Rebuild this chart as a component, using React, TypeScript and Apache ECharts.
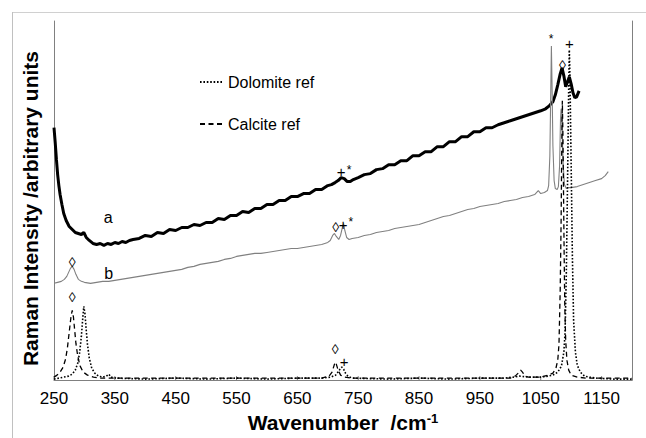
import React, { useEffect, useRef } from 'react';
import * as echarts from 'echarts';

// ---- Spectrum a (black, thick) : wavenumber / intensity (arbitrary units)
const aWn = [250, 252, 254, 256, 258, 260, 263, 266, 270, 275, 280, 285, 290, 295, 299, 303, 308, 314, 320, 326, 332, 338, 344, 350, 356, 362, 368, 374, 380, 390, 400, 410, 420, 430, 440, 450, 460, 470, 480, 490, 500, 510, 520, 530, 540, 550, 560, 570, 580, 590, 600, 610, 620, 630, 640, 650, 660, 670, 680, 690, 700, 706, 712, 717, 722, 727, 732, 737, 742, 750, 760, 770, 780, 790, 800, 810, 820, 830, 840, 850, 860, 870, 880, 890, 900, 910, 920, 930, 940, 950, 960, 970, 980, 990, 1000, 1010, 1020, 1030, 1040, 1050, 1058, 1064, 1070, 1074, 1078, 1082, 1085, 1088, 1091, 1094, 1097, 1100, 1103, 1106, 1109, 1113];
const aVal = [253, 238, 221, 206, 195, 186, 176, 167, 160, 154, 151, 148, 147, 146, 148, 143, 140, 137, 136, 137, 135, 137, 136, 138, 137, 139, 138, 140, 141, 142, 145, 144, 148, 147, 151, 150, 153, 153, 156, 155, 158, 158, 162, 161, 165, 165, 169, 168, 172, 172, 176, 176, 180, 180, 184, 184, 187, 187, 191, 191, 195, 196, 198, 200, 203, 202, 199, 199, 201, 203, 206, 207, 211, 212, 216, 216, 220, 220, 225, 225, 229, 229, 234, 234, 239, 239, 244, 244, 249, 249, 253, 253, 256, 258, 260, 262, 264, 266, 268, 270, 272, 275, 279, 286, 296, 307, 313, 305, 294, 299, 304, 297, 288, 283, 284, 290];

// ---- Spectrum b (grey, thin)
const bWn = [250, 256, 262, 267, 271, 274, 277, 280, 283, 286, 290, 295, 300, 310, 320, 330, 340, 350, 360, 370, 380, 390, 400, 410, 420, 430, 440, 450, 460, 470, 480, 490, 500, 510, 520, 530, 540, 550, 560, 570, 580, 590, 600, 610, 620, 630, 640, 650, 660, 670, 680, 690, 700, 704, 708, 711, 714, 718, 721, 724, 726, 728, 731, 735, 740, 750, 760, 770, 780, 790, 800, 810, 820, 830, 840, 850, 860, 870, 880, 890, 900, 910, 920, 930, 940, 950, 960, 970, 980, 990, 1000, 1010, 1020, 1030, 1040, 1046, 1050, 1056, 1061, 1063, 1065, 1066.5, 1067.5, 1068.5, 1070, 1072, 1074, 1077, 1079, 1081, 1082.5, 1083.5, 1085, 1087, 1089, 1092, 1096, 1100, 1110, 1120, 1130, 1140, 1150, 1156, 1161];
const bVal = [97, 98, 99, 101, 104, 108, 112, 114, 111, 106, 101, 99, 98, 97, 98, 99, 99, 100, 101, 102, 103, 104, 105, 106, 107, 108, 109, 110, 111, 113, 114, 116, 117, 118, 119, 121, 122, 124, 125, 126, 127, 127, 128, 129, 130, 131, 132, 132, 133, 134, 135, 136, 138, 140, 145, 147, 144, 141, 145, 153, 157, 150, 143, 141, 142, 143, 145, 146, 148, 149, 150, 152, 153, 154, 155, 156, 158, 160, 162, 164, 165, 167, 169, 171, 172, 174, 175, 176, 177, 179, 180, 181, 183, 184, 186, 190, 187, 188, 190, 195, 225, 290, 335, 300, 235, 200, 192, 191, 194, 215, 262, 272, 250, 215, 196, 192, 193, 193, 194, 196, 198, 200, 202, 205, 209];

// ---- Dolomite reference (dotted)
const dolWn = [250, 258, 266, 274, 280, 285, 289, 292, 295, 297, 299, 301, 303, 305, 308, 312, 317, 323, 330, 336, 340, 344, 352, 400, 450, 500, 550, 600, 650, 690, 705, 713, 718, 721, 723, 726, 729, 733, 740, 800, 850, 900, 950, 990, 1005, 1015, 1030, 1050, 1062, 1070, 1078, 1084, 1088, 1090, 1092, 1094, 1096, 1097, 1098, 1100, 1102, 1104, 1107, 1110, 1115, 1122, 1130, 1140, 1170, 1200];
const dolVal = [1, 2, 3, 4, 6, 10, 17, 27, 44, 60, 74, 66, 50, 36, 22, 12, 7, 4, 3, 4, 6, 3, 2, 1, 2, 1, 2, 1, 2, 2, 3, 5, 9, 12, 13, 11, 7, 4, 2, 1, 2, 1, 2, 2, 3, 4, 3, 3, 4, 5, 8, 14, 28, 48, 105, 195, 295, 331, 305, 215, 125, 60, 28, 15, 8, 4, 3, 2, 1, 1];

// ---- Calcite reference (dashed)
const calWn = [250, 255, 260, 265, 269, 272, 275, 278, 280, 282, 284, 286, 289, 293, 298, 305, 315, 325, 340, 400, 500, 600, 690, 702, 707, 710, 712, 714, 717, 721, 727, 740, 900, 1000, 1008, 1013, 1017, 1020, 1024, 1030, 1050, 1062, 1070, 1075, 1078, 1080, 1082, 1083.5, 1084.5, 1085.5, 1086.5, 1087.5, 1088.5, 1089.5, 1091, 1093, 1096, 1100, 1110, 1125, 1200];
const calVal = [3, 5, 8, 13, 21, 32, 48, 64, 70, 63, 50, 37, 24, 14, 8, 5, 3, 2, 2, 2, 2, 2, 2, 4, 8, 14, 18, 16, 10, 5, 3, 2, 2, 2, 4, 7, 10, 8, 4, 3, 3, 5, 7, 12, 20, 36, 90, 160, 230, 280, 245, 185, 125, 75, 40, 20, 10, 5, 3, 2, 2];

// ---- Peak markers and curve labels
const markerWn = [339, 340, 280, 280, 713, 725, 738, 722, 735, 712, 727, 1067, 1085.5, 1097];
const markerVal = [163, 107, 118, 83, 153, 156, 162, 209, 214, 31, 19, 345, 316, 337];
const markerText = ['a', 'b', '◊', '◊', '◊', '+', '*', '+', '*', '◊', '+', '*', '◊', '+'];

// ---- Axis ticks / legend
const xTickValues = [250, 350, 450, 550, 650, 750, 850, 950, 1050, 1150];
const seriesNames = ['a', 'b', 'Dolomite ref', 'Calcite ref'];

const FONT = "'Liberation Sans', Arial, Helvetica, sans-serif";

const pairs = (x: number[], y: number[]) => x.map((v, i) => [v, y[i]]);

export default function App() {
  const ref = useRef<HTMLDivElement>(null);

  useEffect(() => {
    if (!ref.current) return;
    const chart = echarts.init(ref.current, null, { renderer: 'svg' });

    const markerSize = (t: string) => (t === '*' ? 12 : t === 'a' || t === 'b' ? 16 : t === '+' ? 15 : 14);

    const option: any = {
      animation: false,
      backgroundColor: '#ffffff',
      grid: { left: 54, right: 14, top: 21, bottom: 57 },
      legend: {
        data: ['Dolomite ref', 'Calcite ref'],
        orient: 'vertical',
        left: 199,
        top: 74,
        padding: 0,
        itemWidth: 23,
        itemHeight: 16,
        itemGap: 26,
        itemStyle: { opacity: 0 },
        textStyle: { fontFamily: FONT, fontSize: 16, color: '#000' },
        selectedMode: false,
      },
      xAxis: {
        type: 'value',
        min: 250,
        max: 1200,
        interval: 50,
        axisLine: { show: true, lineStyle: { color: '#808080', width: 1 } },
        axisTick: { show: false },
        splitLine: { show: false },
        axisLabel: {
          color: '#000',
          fontFamily: FONT,
          fontSize: 17,
          margin: 10,
          formatter: (v: number) => (xTickValues.indexOf(v) >= 0 ? String(v) : ''),
        },
        name: '{t|Wavenumber  /cm}{s|-1}',
        nameLocation: 'middle',
        nameGap: 28,
        nameTextStyle: {
          rich: {
            t: { fontFamily: FONT, fontSize: 21, fontWeight: 'bold', color: '#000' },
            s: { fontFamily: FONT, fontSize: 13, fontWeight: 'bold', color: '#000', verticalAlign: 'top' },
          },
        },
      },
      yAxis: [
        {
          type: 'value',
          min: 0,
          max: 360,
          axisLine: { show: true, lineStyle: { color: '#808080', width: 1 } },
          axisTick: { show: false },
          axisLabel: { show: false },
          splitLine: { show: false },
          name: 'Raman Intensity /arbitrary units',
          nameLocation: 'middle',
          nameGap: 13,
          nameTextStyle: {
            fontFamily: FONT,
            fontSize: 21,
            fontWeight: 'bold',
            color: '#000',
            padding: [0, 16, 0, 0],
          },
        },
        {
          type: 'value',
          position: 'right',
          min: 0,
          max: 360,
          axisLine: { show: true, lineStyle: { color: '#808080', width: 1 } },
          axisTick: { show: false },
          axisLabel: { show: false },
          splitLine: { show: false },
        },
      ],
      series: [
        {
          name: seriesNames[0],
          type: 'line',
          data: pairs(aWn, aVal),
          symbol: 'none',
          lineStyle: { color: '#000', width: 3 },
          z: 2,
        },
        {
          name: seriesNames[1],
          type: 'line',
          data: pairs(bWn, bVal),
          symbol: 'none',
          lineStyle: { color: '#808080', width: 1.1 },
          z: 3,
        },
        {
          name: seriesNames[2],
          type: 'line',
          data: pairs(dolWn, dolVal),
          symbol: 'none',
          color: '#000',
          itemStyle: { color: '#000' },
          lineStyle: { color: '#000', width: 1.6, type: [1.6, 1.8] },
          z: 4,
        },
        {
          name: seriesNames[3],
          type: 'line',
          data: pairs(calWn, calVal),
          symbol: 'none',
          color: '#000',
          itemStyle: { color: '#000' },
          lineStyle: { color: '#000', width: 1.3, type: [5, 3.5] },
          z: 4,
        },
      ],
    };

    chart.setOption(option);

    // tick marks at the labelled wavenumbers, placed through the axis scale
    const y0 = chart.convertToPixel({ yAxisIndex: 0 }, 0) as number;
    const ticks = xTickValues.map((v) => {
      const px = chart.convertToPixel({ xAxisIndex: 0 }, v) as number;
      return {
        type: 'line',
        shape: { x1: px, y1: y0 - 4, x2: px, y2: y0 },
        style: { stroke: '#808080', lineWidth: 1 },
        silent: true,
      };
    });

    // peak markers and curve letters, placed through the axis scales
    const markers = markerWn.map((x, i) => {
      const p = chart.convertToPixel({ xAxisIndex: 0, yAxisIndex: 0 }, [x, markerVal[i]]) as number[];
      const t = markerText[i];
      return {
        type: 'text',
        x: p[0],
        y: p[1] + (t === '*' ? 3 : 0),
        silent: true,
        z: 10,
        style: {
          text: t,
          fill: '#000',
          font: `${markerSize(t)}px ${FONT}`,
          align: 'center',
          verticalAlign: 'middle',
        },
      };
    });

    chart.setOption({
      graphic: [
        { type: 'line', shape: { x1: 12, y1: 12.5, x2: 646, y2: 12.5 }, style: { stroke: '#d0d0d0', lineWidth: 1 }, silent: true },
        { type: 'line', shape: { x1: 12.5, y1: 12, x2: 12.5, y2: 438 }, style: { stroke: '#c0c0c0', lineWidth: 1 }, silent: true },
        ...ticks,
        ...markers,
      ],
    });

    return () => chart.dispose();
  }, []);

  return (
    <div
      ref={ref}
      style={{ position: 'absolute', left: 0, top: 0, width: 646, height: 438, background: '#fff' }}
    />
  );
}
